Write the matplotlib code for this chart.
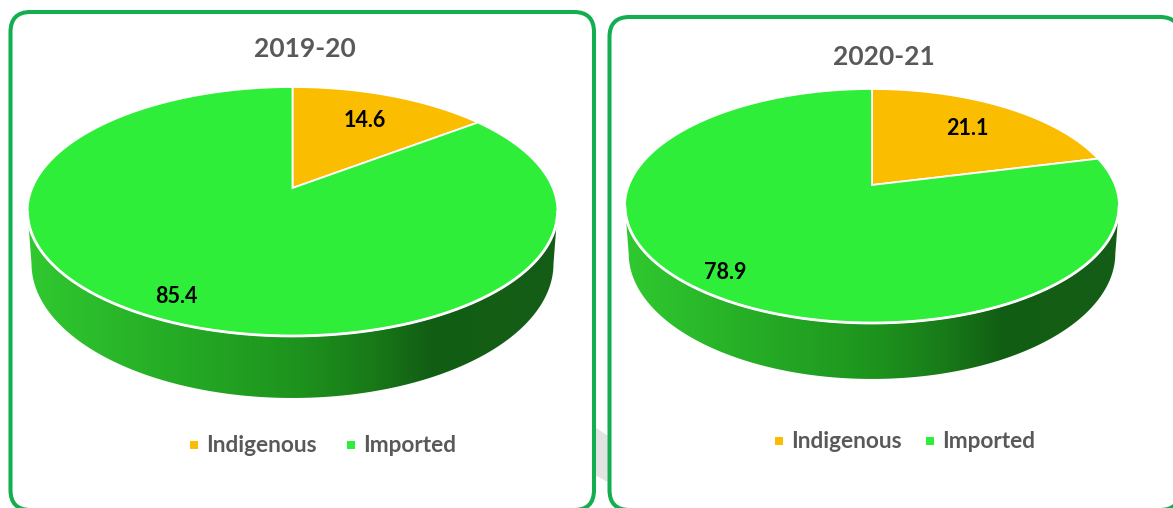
import numpy as np
import matplotlib.pyplot as plt
from matplotlib.patches import Polygon, FancyBboxPatch
from matplotlib.colors import LinearSegmentedColormap

plt.rcParams['font.family'] = ['Lato', 'DejaVu Sans']

years = ['2019-20', '2020-21']
categories = ['Indigenous', 'Imported']
indigenous = [14.6, 21.1]
imported = [85.4, 78.9]

colors = ['#FABD00', '#2EEE3A']
label_r = [0.70, 0.86]  # how far out each slice label sits

# pie centre, focal size, perspective, tilt, side depth, text rows, box
panels = [
    dict(cx=292.5, cy=188, f=260.2, c=0.1887, s=0.4614, k=50.3,
         title_y=49, leg_y=445, leg_x=(194, 351), box=(10.5, 12, 594, 510)),
    dict(cx=872, cy=185, f=243.0, c=0.1795, s=0.466, k=45.9,
         title_y=57, leg_y=441, leg_x=(779, 930), box=(609.5, 17, 1180, 510)),
]

side_cmap = LinearSegmentedColormap.from_list('side', [
    (0.0, '#30C930'), (0.25, '#26AE26'), (0.5, '#1E941E'),
    (0.65, '#187A18'), (0.76, '#125E14'), (1.0, '#155D17')])


def proj(p, u, v):
    z = 1 + p['c'] * v
    return p['cx'] + p['f'] * u / z, p['cy'] - p['f'] * p['s'] * v / z


fig = plt.figure(figsize=(11.73, 5.08), dpi=100)
ax = fig.add_axes([0, 0, 1, 1])
ax.set_xlim(0, 1173)
ax.set_ylim(508, 0)
ax.axis('off')

# faint grey sliver between the two boxes
ax.add_patch(Polygon([(595, 428), (607, 436), (607, 481), (595, 474)],
                     closed=True, color='#E3E3E3', zorder=0))

for i, p in enumerate(panels):
    x0, y0, x1, y1 = p['box']
    ax.add_patch(FancyBboxPatch((x0, y0), x1 - x0, y1 - y0,
                                boxstyle='round,pad=0,rounding_size=20',
                                fc='white', ec='#12AE4F', lw=2.9, zorder=1))

    # rim of the top face
    t = np.radians(np.linspace(0, 360, 721))
    rx, ry = proj(p, np.sin(t), np.cos(t))
    il, ir = np.argmin(rx), np.argmax(rx)
    front = t[ir:il + 1]  # right extreme -> front -> left extreme
    fx, fy = proj(p, np.sin(front), np.cos(front))
    z = 1 + p['c'] * np.cos(front)
    bx = p['cx'] + (fx - p['cx']) * 0.985
    by = fy + p['k'] / z
    side = np.vstack([np.column_stack([fx, fy]),
                      np.column_stack([bx, by])[::-1]])
    side_patch = Polygon(side, closed=True, fc='none', ec='none', zorder=2)
    ax.add_patch(side_patch)
    grad = np.linspace(0, 1, 256).reshape(1, -1)
    im = ax.imshow(grad, cmap=side_cmap, aspect='auto', zorder=2,
                   extent=(rx.min(), rx.max(), by.max() + 2, fy.min() - 2))
    im.set_clip_path(side_patch)

    # top face wedges
    vals = [indigenous[i], imported[i]]
    total = sum(vals)
    start = 0.0
    for j, val in enumerate(vals):
        span = val / total * 360
        a = np.radians(np.linspace(start, start + span, 200))
        wx, wy = proj(p, np.sin(a), np.cos(a))
        ox, oy = proj(p, 0, 0)
        pts = np.vstack([[ox, oy], np.column_stack([wx, wy])])
        ax.add_patch(Polygon(pts, closed=True, fc=colors[j], ec='white',
                             lw=1.3, joinstyle='miter', zorder=3))
        mid = np.radians(start + span / 2)
        lx, ly = proj(p, label_r[j] * np.sin(mid), label_r[j] * np.cos(mid))
        ax.text(lx, ly, f'{val:.1f}', ha='center', va='center',
                fontsize=15.5, fontweight='bold', color='black', zorder=5)
        start += span

    ax.plot(fx, fy, color='white', lw=2.0, zorder=4, solid_capstyle='round')

    ax.text(p['cx'] + 12, p['title_y'], years[i], ha='center', va='center',
            fontsize=19, fontweight='bold', color='#595959', zorder=5)

    for j, name in enumerate(categories):
        mx = p['leg_x'][j]
        ax.scatter([mx], [p['leg_y']], marker='s', s=34, color=colors[j],
                   zorder=5, linewidths=0)
        ax.text(mx + 12, p['leg_y'], name, ha='left', va='center',
                fontsize=16.3, fontweight='bold', color='#595959', zorder=5)

fig.savefig('out.png', dpi=100, facecolor='white')
